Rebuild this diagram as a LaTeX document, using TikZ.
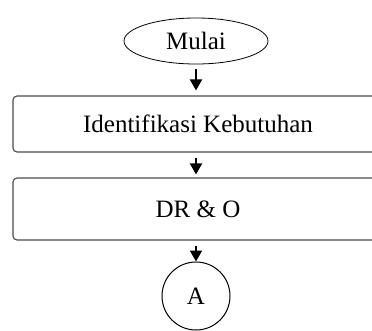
\documentclass[tikz,border=0pt]{standalone}
\usepackage{fontspec}
\setmainfont{Liberation Serif}
\usetikzlibrary{arrows.meta,shapes.geometric}
\begin{document}
\begin{tikzpicture}[x=1pt,y=-1pt,
  every node/.style={font=\fontsize{25}{30}\selectfont},
  procbox/.style={draw=black!70,line width=1.1pt,rounded corners=4pt,rectangle,minimum width=370pt,inner sep=0pt},
  arr/.style={line width=2pt,-{Triangle[width=12pt,length=11pt]}}]
\useasboundingbox (0,0) rectangle (372,330);
\clip (0,0) rectangle (372,330);
\node[draw,ellipse,line width=0.8pt,minimum width=144pt,minimum height=46pt,inner sep=0pt] (start) at (196,41) {Mulai};
\node[procbox,minimum height=56pt] (b1) at (198,124) {Identifikasi Kebutuhan};
\node[procbox,minimum height=62pt] (b2) at (198,209) {DR \& O};
\node[draw,circle,line width=1pt,minimum size=68pt,inner sep=0pt] (a) at (196,296) {A};
\draw[arr,shorten <=5pt,shorten >=5pt] (start.south) -- (start.south |- b1.north);
\draw[arr,shorten <=5pt,shorten >=3pt] (start.south |- b1.south) -- (start.south |- b2.north);
\draw[arr,shorten <=5pt] (start.south |- b2.south) -- (a.north);
\end{tikzpicture}
\end{document}
